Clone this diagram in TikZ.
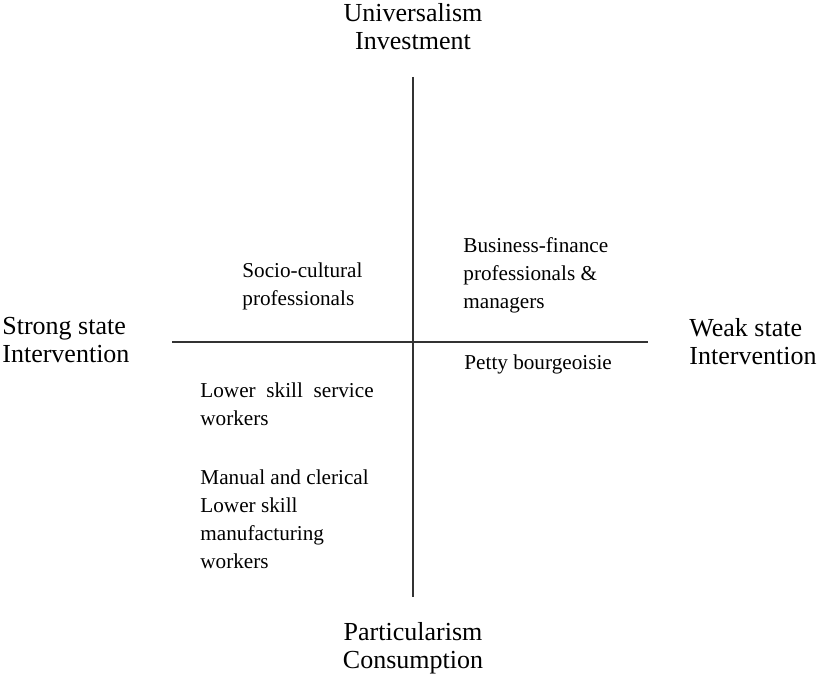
\documentclass[tikz,border=0pt]{standalone}
\usepackage{fontspec}
\setmainfont{Liberation Serif}
\begin{document}
\begin{tikzpicture}[x=0.5pt,y=-0.5pt,
  axis/.style={line width=0.75pt,black!80},
  pole/.style={font=\fontsize{13}{14}\selectfont,inner sep=0pt,anchor=base},
  group/.style={font=\fontsize{10.6}{14}\selectfont,align=left,inner sep=0pt,anchor=base west}]
\useasboundingbox (0,0) rectangle (817,684);
% the two axes
\coordinate (top) at (413,77); \coordinate (bot) at (413,597);
\coordinate (lft) at (172,342); \coordinate (rgt) at (648,342);
\draw[axis] (top) -- (bot); \draw[axis] (lft) -- (rgt);
% pole labels (placed by the baseline of their last line)
\node[pole,align=center] (univ) at (413,50) {Universalism\\Investment};
\node[pole,align=center] (partic) at (413,668) {Particularism\\Consumption};
\node[pole,align=left,anchor=base west] (strong) at (2,362) {Strong state\\Intervention};
\node[pole,align=left,anchor=base west] (weak) at (689,364) {Weak state\\Intervention};
% groups in the quadrants
\node[group] (socio) at (242,305) {Socio-cultural\\professionals};
\node[group] (business) at (463,308) {Business-finance\\professionals \&\\managers};
\node[group] (service) at (200,425) {Lower\hspace{2.7pt} skill\hspace{2.7pt} service\\workers};
\node[group] (manual) at (200,568) {Manual and clerical\\Lower skill\\manufacturing\\workers};
\node[group] (petty) at (464,369) {Petty bourgeoisie};
\end{tikzpicture}
\end{document}
